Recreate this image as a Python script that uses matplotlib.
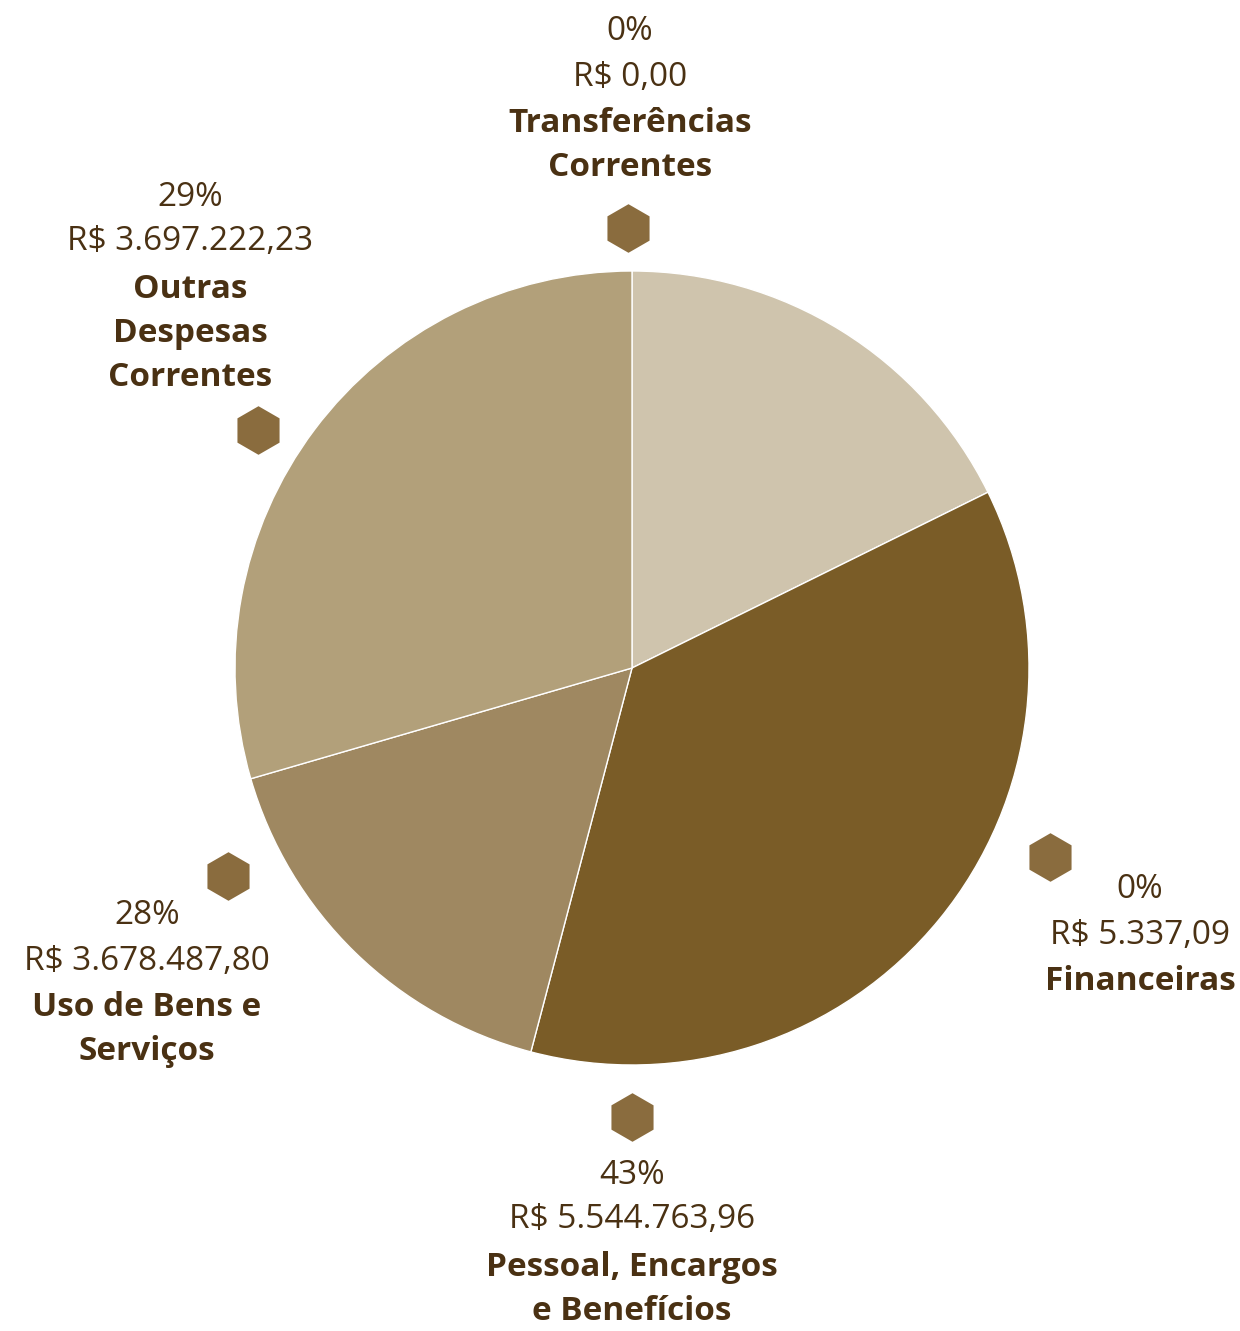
import numpy as np
import matplotlib
matplotlib.use("Agg")
import matplotlib.pyplot as plt

# slice shares as drawn in the picture (clockwise from 12 o'clock)
slice_share = [17.7, 36.4, 16.4, 29.5]
slice_colors = ["#cfc4ad", "#7a5c27", "#9f8861", "#b2a07a"]

# label texts
pct = ["0%", "0%", "43%", "28%", "29%"]
money = ["R$ 0,00", "R$ 5.337,09", "R$ 5.544.763,96", "R$ 3.678.487,80", "R$ 3.697.222,23"]
names = [["Transferências", "Correntes"],
         ["Financeiras"],
         ["Pessoal, Encargos", "e Benefícios"],
         ["Uso de Bens e", "Serviços"],
         ["Outras", "Despesas", "Correntes"]]

# layout (image pixels, y down): hexagon marker, text centre x, first text line y
hex_xy = [(628, 228), (1050, 857), (632, 1117), (228, 876), (258, 430)]
text_x = [630, 1140, 632, 147, 190]
text_y0 = [32, 890, 1175, 916, 197]

W, H = 1240, 1331
txt_col = "#4a3113"
hex_col = "#8a6c3e"

plt.rcParams['font.family'] = ['Open Sans', 'DejaVu Sans']

fig = plt.figure(figsize=(W / 100, H / 100), dpi=100)
ax = fig.add_axes([0, 0, 1, 1])

cx, cy, r = 632, H - 668, 397
ax.pie(slice_share, colors=slice_colors, startangle=90, counterclock=False,
       center=(cx, cy), radius=r, frame=True,
       wedgeprops=dict(edgecolor="white", linewidth=1.0))
ax.set_xlim(0, W)
ax.set_ylim(0, H)
ax.set_aspect('equal')
ax.axis('off')

for i in range(len(pct)):
    hx, hy = hex_xy[i]
    ax.plot(hx, H - hy, marker='h', markersize=35, color=hex_col,
            markeredgewidth=0, zorder=5)
    lines = [(pct[i], 'normal'), (money[i], 'normal')] + [(n, 'bold') for n in names[i]]
    y = text_y0[i]
    for j, (s, w) in enumerate(lines):
        ax.text(text_x[i], H - y, s, ha='center', va='center', fontsize=24,
                fontweight=w, color=txt_col)
        y += 45 if j < 1 else (47 if j == 1 else 44)

fig.savefig("out.png", dpi=100, facecolor="white")
